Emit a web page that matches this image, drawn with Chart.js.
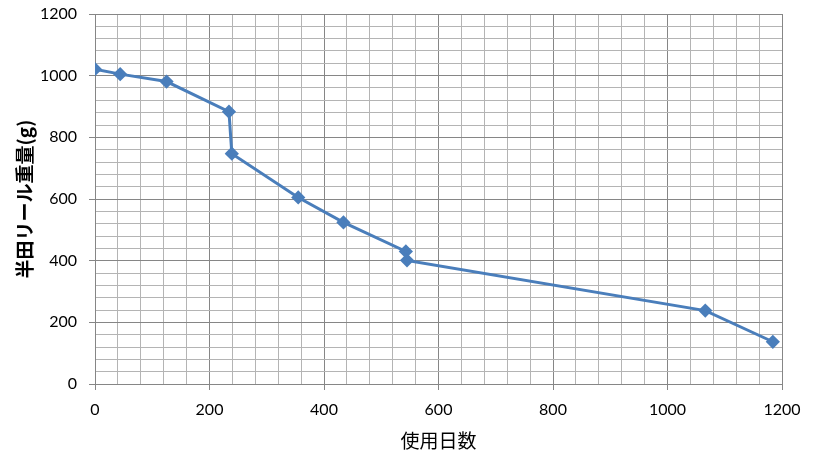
<!DOCTYPE html>
<html>
<head>
<meta charset="utf-8">
<script src="https://cdn.jsdelivr.net/npm/chart.js@4"></script>
<style>
  html, body { margin: 0; padding: 0; background: #fff; }
  #wrap { width: 814px; height: 452px; }
</style>
</head>
<body>
<div id="wrap"><canvas id="chart" width="814" height="452"></canvas></div>
<script>
// 使用日数 vs 半田リール重量
const days    = [0, 44, 125, 234, 239, 355, 434, 543, 545, 1066, 1184];
const weights = [1021, 1005, 981, 883, 747, 605, 524, 430, 401, 238, 137];

const xTitle = "使用日数";
const yTitle = "半田リール重量(g)";

const lineColor = "#4a7ebb";
const majorGrid = "#868686";
const minorGrid = "#b4b4b4";

const points = days.map((d, i) => ({x: d, y: weights[i]}));

const isMajor = v => v % 200 === 0;

const numFont = {family: "Lato, 'Open Sans', sans-serif", size: 16};
const titleFont = {family: "'Noto Sans CJK JP', sans-serif", size: 19};

new Chart(document.getElementById("chart"), {
    type: "line",
    data: {
        datasets: [{
            data: points,
            borderColor: lineColor,
            backgroundColor: lineColor,
            borderWidth: 3,
            pointStyle: "rectRot",
            pointRadius: 5,
            pointHoverRadius: 5,
            tension: 0
        }]
    },
    options: {
        responsive: false,
        animation: false,
        layout: {padding: {top: 14, right: 32, left: 0, bottom: 0}},
        plugins: {legend: {display: false}, tooltip: {enabled: false}},
        scales: {
            x: {
                type: "linear",
                min: 0, max: 1200,
                afterFit: s => { s.height = 68; },
                border: {color: majorGrid, width: 1},
                grid: {
                    color: c => isMajor(c.tick.value) ? majorGrid : minorGrid,
                    tickColor: c => isMajor(c.tick.value) ? majorGrid : "rgba(0,0,0,0)",
                    tickLength: 6
                },
                ticks: {
                    stepSize: 40,
                    autoSkip: false,
                    maxRotation: 0,
                    padding: 10,
                    color: "#000",
                    font: numFont,
                    callback: v => isMajor(v) ? v : ""
                },
                title: {display: true, text: xTitle, color: "#000", font: titleFont, padding: {top: 0, bottom: 0}}
            },
            y: {
                min: 0, max: 1200,
                afterFit: s => { s.width = 95; s.paddingTop = 0; s.paddingBottom = 0; },
                border: {color: majorGrid, width: 1},
                grid: {
                    color: c => isMajor(c.tick.value) ? majorGrid : minorGrid,
                    tickColor: c => isMajor(c.tick.value) ? majorGrid : "rgba(0,0,0,0)",
                    tickLength: 6
                },
                ticks: {
                    stepSize: 40,
                    autoSkip: false,
                    padding: 12,
                    color: "#000",
                    font: numFont,
                    callback: v => isMajor(v) ? v : ""
                },
                title: {display: true, text: yTitle, color: "#000", font: Object.assign({}, titleFont, {weight: "bold"}), padding: {top: 13, bottom: 0}}
            }
        }
    }
});
</script>
</body>
</html>
